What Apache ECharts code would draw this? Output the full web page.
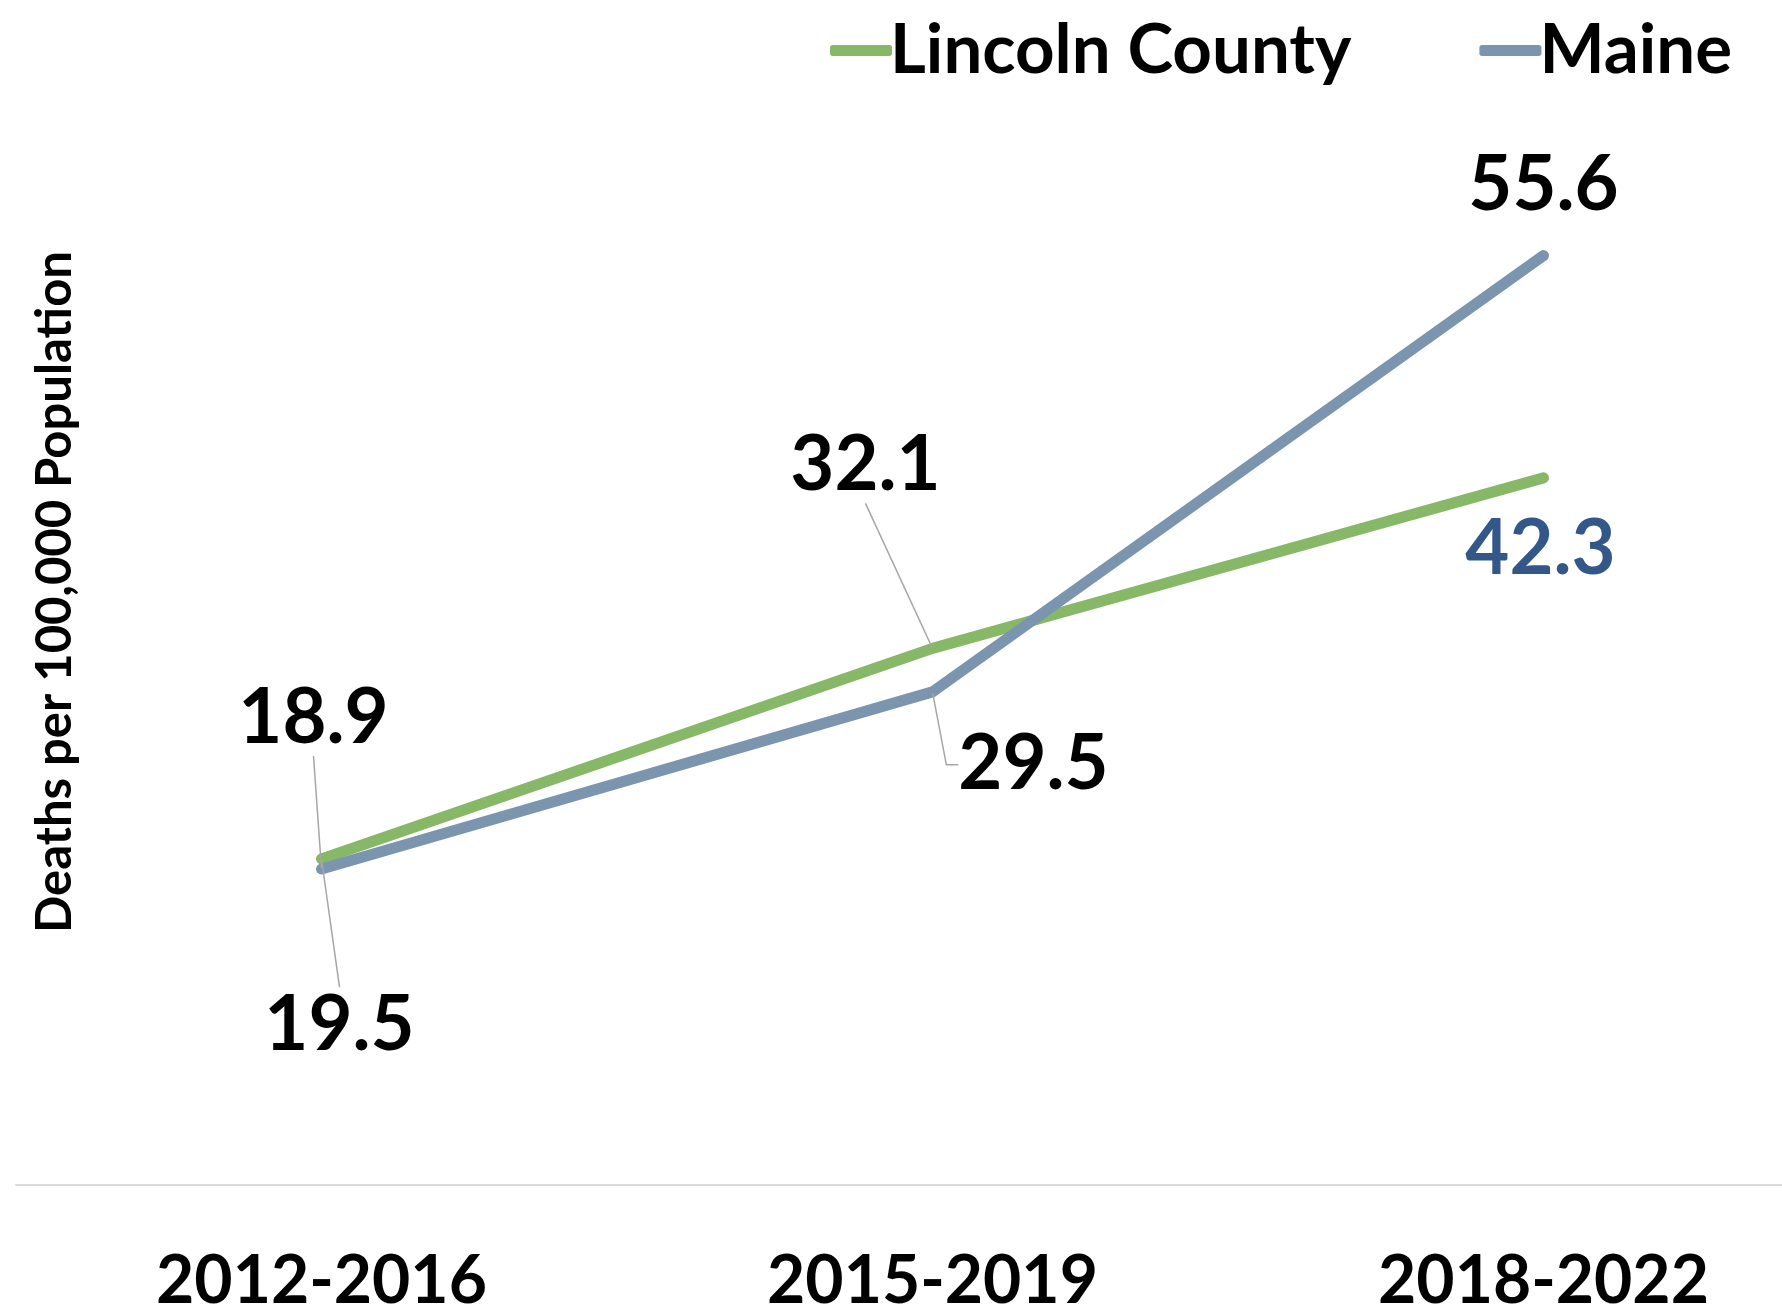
<!DOCTYPE html>
<html>
<head>
<meta charset="utf-8">
<script src="https://cdn.jsdelivr.net/npm/echarts@6/dist/echarts.min.js"></script>
<style>
  html, body { margin: 0; padding: 0; background: #fff; }
  #chart { width: 1782px; height: 1315px; }
</style>
</head>
<body>
<div id="chart"></div>
<script>
// Overdose deaths per 100,000 population, five-year periods
const periods = ['2012-2016', '2015-2019', '2018-2022'];
const lincolnCounty = [19.5, 32.1, 42.3];
const maine = [18.9, 29.5, 55.6];
const yTitle = 'Deaths per 100,000 Population';

const FONT = 'Lato, "Open Sans", sans-serif';
const GREEN = '#87B867';
const BLUE = '#7B95AF';
const LEADER = '#A6A6A6';

// Where each value label sits relative to its point; padding sets the gap before the leader line
const lincolnLabels = [
  { dx: 18, dy: 166, pad: 30, leader: true },
  { dx: -67, dy: -183, pad: 25, leader: true },
  { dx: -3, dy: 72, pad: 0, leader: false, color: '#34578A' }
];
const maineLabels = [
  { dx: -8, dy: -151, pad: 26, leader: true },
  { dx: 101, dy: 73, pad: 10, leader: true, bend: 12 },
  { dx: 0, dy: -70, pad: 0, leader: false }
];

function items(values, place) {
  return values.map((v, i) => ({
    value: v,
    label: { padding: place[i].pad, color: place[i].color || '#000' },
    labelLine: { show: place[i].leader, length2: place[i].bend || 0 }
  }));
}

function lineSeries(name, values, place, color) {
  return {
    name: name,
    type: 'line',
    data: items(values, place),
    symbol: 'circle',
    symbolSize: 2,
    showSymbol: true,
    itemStyle: { color: color },
    lineStyle: { color: color, width: 11, cap: 'round', join: 'round' },
    label: {
      show: true,
      position: 'inside',
      fontFamily: FONT,
      fontWeight: 'bold',
      fontSize: 76,
      formatter: p => Number(p.value).toFixed(1)
    },
    labelLine: { show: false, lineStyle: { color: LEADER, width: 1.5 } },
    labelLayout: p => ({ dx: place[p.dataIndex].dx, dy: place[p.dataIndex].dy }),
    emphasis: { disabled: true },
    animation: false
  };
}

const chart = echarts.init(document.getElementById('chart'));
chart.setOption({
  backgroundColor: '#fff',
  animation: false,
  grid: { left: 16, top: 182, width: 1833, height: 1003, containLabel: false, outerBoundsMode: 'none' },
  legend: {
    data: ['Lincoln County', 'Maine'],
    right: 45,
    top: 11,
    icon: 'roundRect',
    itemWidth: 62,
    itemHeight: 11,
    itemGap: 128,
    selectedMode: false,
    textStyle: { fontFamily: FONT, fontWeight: 'bold', fontSize: 69, color: '#000', padding: [0, 0, 0, -7] }
  },
  xAxis: {
    type: 'category',
    data: periods,
    boundaryGap: true,
    axisLine: { lineStyle: { color: '#D9D9D9', width: 2 } },
    axisTick: { show: false },
    axisLabel: { fontFamily: FONT, fontWeight: 'bold', fontSize: 66, color: '#000', margin: 64 }
  },
  yAxis: { type: 'value', min: 0, max: 60, show: false },
  graphic: [{
    type: 'text',
    x: 55,
    y: 592,
    rotation: Math.PI / 2,
    style: {
      text: yTitle,
      fontFamily: FONT,
      fontWeight: 'bold',
      fontSize: 49,
      fill: '#000',
      align: 'center',
      verticalAlign: 'middle',
      textAlign: 'center',
      textVerticalAlign: 'middle'
    }
  }],
  series: [
    lineSeries('Lincoln County', lincolnCounty, lincolnLabels, GREEN),
    lineSeries('Maine', maine, maineLabels, BLUE)
  ]
});
</script>
</body>
</html>
